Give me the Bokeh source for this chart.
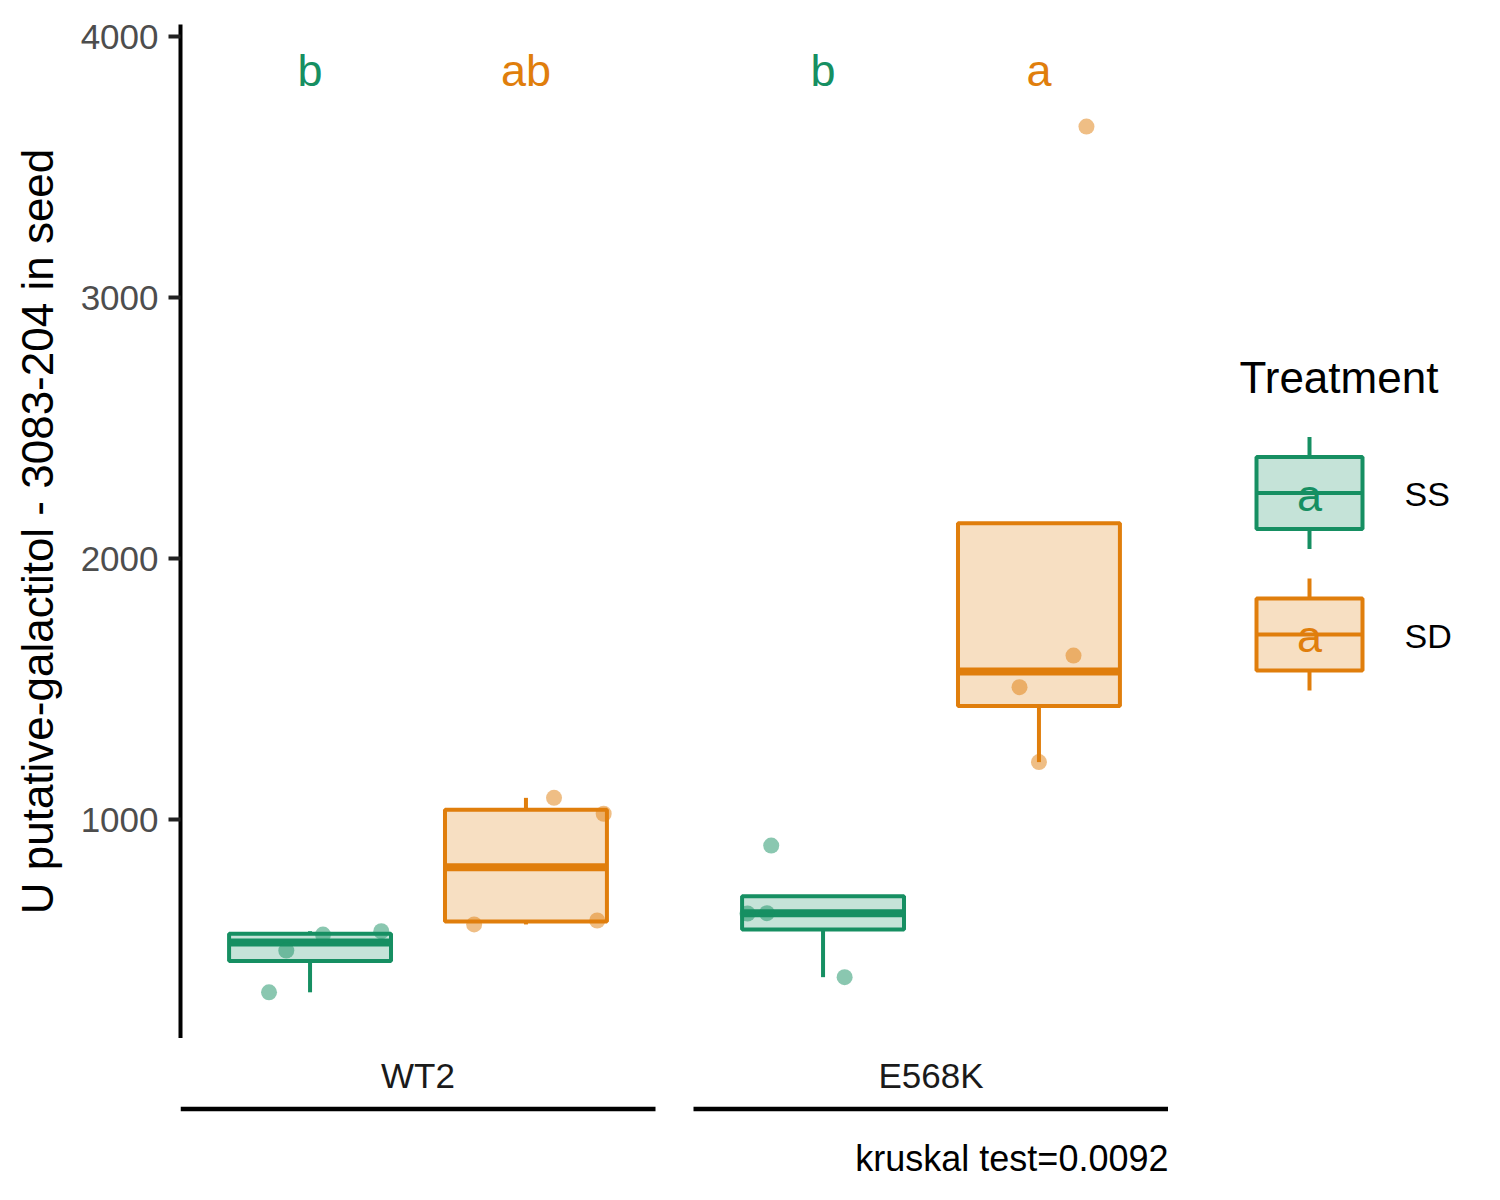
import numpy as np
from bokeh.plotting import figure
from bokeh.layouts import row, column
from bokeh.models import Range1d, FixedTicker
from bokeh.core.properties import value
from bokeh.embed import file_html
from bokeh.resources import INLINE

# ---------------- data ----------------
genotypes = ["WT2", "E568K"]
treatments = ["SS", "SD"]

wt2_ss = [338, 498, 559, 572]
wt2_sd = [598, 1083, 1022, 613]
e568k_ss = [640, 641, 900, 396]
e568k_sd = [1628, 1507, 1220, 3655]

# horizontal jitter of each point (fraction of a category slot)
wt2_ss_jitter = [-0.19, -0.11, 0.06, 0.33]
wt2_sd_jitter = [-0.24, 0.13, 0.36, 0.33]
e568k_ss_jitter = [-0.35, -0.26, -0.24, 0.10]
e568k_sd_jitter = [0.16, -0.09, 0.00, 0.22]

letters_wt2 = ["b", "ab"]
letters_e568k = ["b", "a"]
legend_letters = ["a", "a"]
letter_y = 3870

y_ticks = [1000, 2000, 3000, 4000]
y_label = "U putative-galactitol - 3083-204 in seed"
legend_title = "Treatment"
caption = "kruskal test=0.0092"

values = {("WT2", "SS"): wt2_ss, ("WT2", "SD"): wt2_sd,
          ("E568K", "SS"): e568k_ss, ("E568K", "SD"): e568k_sd}
jitters = {("WT2", "SS"): wt2_ss_jitter, ("WT2", "SD"): wt2_sd_jitter,
           ("E568K", "SS"): e568k_ss_jitter, ("E568K", "SD"): e568k_sd_jitter}
letters = {"WT2": letters_wt2, "E568K": letters_e568k}

# ---------------- style ----------------
COLORS = {"SS": "#168F62", "SD": "#E07E0C"}
FONT = "Liberation Sans"
GAP = 0.176          # space between facet panels (category units)
PAD = 0.6            # discrete-scale expansion
STEP = 2 * PAD + 1 + GAP
HALF_W = 0.375       # half box width
BOX_LW = 4
MED_LW = 8


def box_stats(v):
    v = np.asarray(v, float)
    q1, med, q3 = np.percentile(v, [25, 50, 75])
    iqr = q3 - q1
    inside = v[(v >= q1 - 1.5 * iqr) & (v <= q3 + 1.5 * iqr)]
    lo = min(q1, inside.min())
    hi = max(q3, inside.max())
    return q1, med, q3, lo, hi


x_range = Range1d(-PAD, STEP + 1 + PAD)
MAIN_W, MAIN_H = 1168, 1038

# ---------------- main panel ----------------
p = figure(width=MAIN_W, height=MAIN_H, x_range=x_range, y_range=Range1d(161, 4046),
           output_backend="svg", toolbar_location=None,
           min_border_left=180, min_border_right=0, min_border_top=24, min_border_bottom=0)
p.title.visible = False
p.xaxis.visible = False
p.grid.visible = False
p.outline_line_color = None
p.background_fill_color = "white"

ya = p.yaxis[0]
ya.ticker = FixedTicker(ticks=y_ticks)
ya.axis_line_width = 4
ya.axis_line_color = "black"
ya.major_tick_line_width = 4
ya.major_tick_line_color = "#222222"
ya.major_tick_out = 12
ya.major_tick_in = 0
ya.minor_tick_out = 0
ya.minor_tick_in = 0
ya.major_label_standoff = 10
ya.major_label_text_font = FONT
ya.major_label_text_font_size = "35px"
ya.major_label_text_color = "#4D4D4D"
ya.axis_label = y_label
ya.axis_label_text_font = FONT
ya.axis_label_text_font_size = "44px"
ya.axis_label_text_font_style = "normal"
ya.axis_label_text_color = "black"
ya.axis_label_standoff = 16

for gi, g in enumerate(genotypes):
    for ti, t in enumerate(treatments):
        xc = gi * STEP + ti
        col = COLORS[t]
        v = values[(g, t)]
        q1, med, q3, lo, hi = box_stats(v)
        p.segment(x0=[xc, xc], y0=[q3, q1], x1=[xc, xc], y1=[hi, lo],
                  line_color=col, line_width=BOX_LW)
        p.quad(left=[xc - HALF_W], right=[xc + HALF_W], bottom=[q1], top=[q3],
               fill_color=col, fill_alpha=0.25, line_color=col, line_width=BOX_LW)
        p.segment(x0=[xc - HALF_W], y0=[med], x1=[xc + HALF_W], y1=[med],
                  line_color=col, line_width=MED_LW, line_cap="butt")
        xs = [xc + j for j in jitters[(g, t)]]
        p.scatter(x=xs, y=v, size=16, fill_color=col, fill_alpha=0.5, line_color=None)
        p.text(x=[xc], y=[letter_y], text=[letters[g][ti]], text_color=col,
               text_font=value(FONT), text_font_size="45px",
               text_align="center", text_baseline="middle")

# ---------------- strip (facet labels + caption) ----------------
SH = 146
s = figure(width=MAIN_W, height=SH, x_range=x_range, y_range=Range1d(SH, 0),
           output_backend="svg", toolbar_location=None,
           min_border_left=180, min_border_right=0, min_border_top=0, min_border_bottom=0)
s.title.visible = False
s.axis.visible = False
s.grid.visible = False
s.outline_line_color = None
n = len(genotypes)
s.segment(x0=[gi * STEP - PAD for gi in range(n)], y0=[70.5] * n,
          x1=[gi * STEP + 1 + PAD for gi in range(n)], y1=[70.5] * n,
          line_color="black", line_width=4.5)
s.text(x=[gi * STEP + 0.5 for gi in range(n)], y=[36.5] * n,
       text=genotypes, text_color="#1A1A1A", text_font=value(FONT), text_font_size="35px",
       text_align="center", text_baseline="middle")
s.text(x=[STEP + 1 + PAD], y=[119.5], text=[caption], text_color="black",
       text_font=value(FONT), text_font_size="36px", text_align="right",
       text_baseline="middle")

# ---------------- legend ----------------
LW, LH = 316, MAIN_H + SH
lg = figure(width=LW, height=LH, x_range=Range1d(0, LW), y_range=Range1d(LH, 0),
            output_backend="svg", toolbar_location=None,
            min_border_left=0, min_border_right=0, min_border_top=0, min_border_bottom=0)
lg.title.visible = False
lg.axis.visible = False
lg.grid.visible = False
lg.outline_line_color = None

KEY_CX, KEY_HW, KEY_HH, WHISK = 141, 53, 36, 56
ROW0, ROW_STEP = 492.5, 141.5
lg.text(x=[71], y=[377], text=[legend_title], text_color="black",
        text_font=value(FONT), text_font_size="44px", text_baseline="middle")
for i, t in enumerate(treatments):
    col = COLORS[t]
    cy = ROW0 + i * ROW_STEP
    lg.segment(x0=[KEY_CX], y0=[cy - WHISK], x1=[KEY_CX], y1=[cy + WHISK],
               line_color=col, line_width=BOX_LW)
    lg.quad(left=[KEY_CX - KEY_HW], right=[KEY_CX + KEY_HW], top=[cy - KEY_HH],
            bottom=[cy + KEY_HH], fill_color="white", line_color=None)
    lg.quad(left=[KEY_CX - KEY_HW], right=[KEY_CX + KEY_HW], top=[cy - KEY_HH],
            bottom=[cy + KEY_HH], fill_color=col, fill_alpha=0.25,
            line_color=col, line_width=BOX_LW)
    lg.segment(x0=[KEY_CX - KEY_HW], y0=[cy], x1=[KEY_CX + KEY_HW], y1=[cy],
               line_color=col, line_width=BOX_LW)
    lg.text(x=[KEY_CX], y=[cy + 2], text=[legend_letters[i]], text_color=col,
            text_font=value(FONT), text_font_size="45px", text_align="center",
            text_baseline="middle")
    lg.text(x=[236], y=[cy + 1], text=[t], text_color="black",
            text_font=value(FONT), text_font_size="34px", text_baseline="middle")

layout = row(column(p, s), lg)
open("out.html", "w").write(file_html(layout, INLINE))
